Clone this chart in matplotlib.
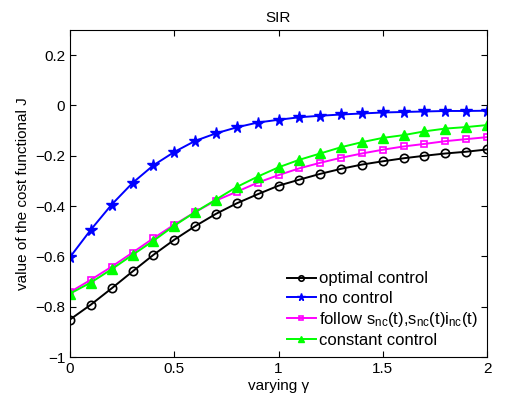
import numpy as np
import matplotlib
matplotlib.use('Agg')
import matplotlib.pyplot as plt

plt.rcParams['font.family'] = ['Liberation Sans', 'DejaVu Sans']
plt.rcParams['mathtext.fontset'] = 'custom'
plt.rcParams['mathtext.rm'] = 'Liberation Sans'
plt.rcParams['mathtext.it'] = 'Liberation Sans'

# data
gamma = [0.0, 0.1, 0.2, 0.3, 0.4, 0.5, 0.6, 0.7, 0.8, 0.9, 1.0,
         1.1, 1.2, 1.3, 1.4, 1.5, 1.6, 1.7, 1.8, 1.9, 2.0]
optimal = [-0.851, -0.792, -0.727, -0.660, -0.594, -0.534, -0.480, -0.431, -0.389, -0.353, -0.319,
           -0.295, -0.272, -0.252, -0.235, -0.222, -0.210, -0.200, -0.191, -0.184, -0.175]
no_ctrl = [-0.603, -0.494, -0.394, -0.308, -0.238, -0.185, -0.141, -0.111, -0.087, -0.068, -0.057,
           -0.047, -0.041, -0.036, -0.032, -0.028, -0.026, -0.024, -0.022, -0.022, -0.021]
follow = [-0.742, -0.693, -0.641, -0.585, -0.528, -0.474, -0.424, -0.378, -0.343, -0.307, -0.277,
          -0.250, -0.228, -0.208, -0.191, -0.176, -0.163, -0.153, -0.142, -0.134, -0.126]
constant = [-0.748, -0.704, -0.651, -0.594, -0.538, -0.478, -0.424, -0.374, -0.324, -0.283, -0.246,
            -0.216, -0.191, -0.166, -0.146, -0.129, -0.118, -0.103, -0.092, -0.086, -0.078]

fig = plt.figure(figsize=(5.05, 4.05), dpi=100)
ax = fig.add_axes([0.1386, 0.1185, 0.8258, 0.8075])

ax.plot(gamma, optimal, '-o', color='k', lw=1.4, ms=6, mfc='none', mew=1.2, label='optimal control')
ax.plot(gamma, no_ctrl, '-*', color='b', lw=1.4, ms=8.5, label='no control')
ax.plot(gamma, follow, '-s', color='#ff00ff', lw=1.4, ms=5, mfc='none', mew=1.2,
        label=r'follow s$_{\mathregular{nc}}$(t),s$_{\mathregular{nc}}$(t)i$_{\mathregular{nc}}$(t)')
ax.plot(gamma, constant, '-^', color='#00ff00', lw=1.4, ms=7, label='constant control')

ax.set_xlim(0, 2)
ax.set_ylim(-1, 0.3)
ax.set_xticks([0, 0.5, 1, 1.5, 2])
ax.set_xticklabels(['0', '0.5', '1', '1.5', '2'])
ax.set_yticks([-1, -0.8, -0.6, -0.4, -0.2, 0, 0.2])
ax.set_yticklabels(['\u22121', '\u22120.8', '\u22120.6', '\u22120.4', '\u22120.2', '0', '0.2'])
ax.tick_params(direction='in', top=True, right=True, labelsize=11, length=4)
for s in ax.spines.values():
    s.set_linewidth(0.8)

ax.set_title('SIR', fontsize=11)
ax.set_xlabel('varying \u03b3', fontsize=11, labelpad=2)
ax.set_ylabel('value of the cost functional J', fontsize=11)

ax.legend(loc='lower right', frameon=False, fontsize=12, handlelength=1.75,
          handletextpad=0.2, labelspacing=0.25, borderaxespad=0.15, markerscale=0.65)

fig.savefig('out.png', dpi=100)
